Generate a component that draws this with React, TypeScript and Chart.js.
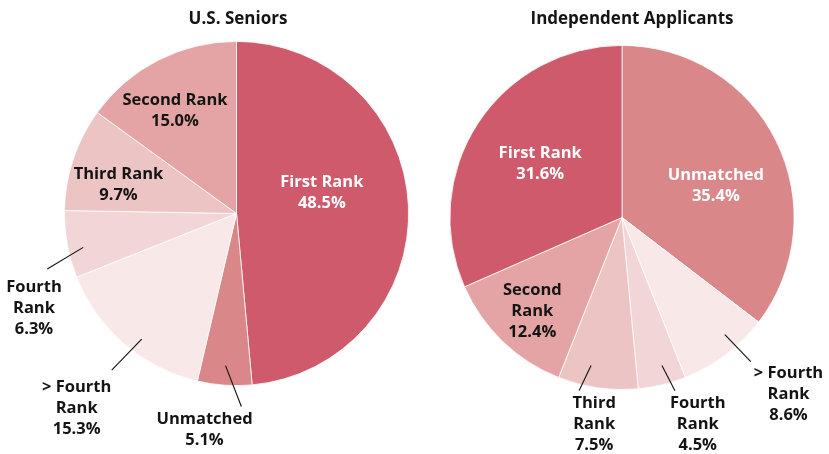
import React, { useEffect, useRef } from "react";
import { Chart, registerables } from "chart.js";

Chart.register(...registerables);

// ---- data ----
const seniorsTitle = "U.S. Seniors";
const seniorsCategories = ["First Rank", "Unmatched", "> Fourth Rank", "Fourth Rank", "Third Rank", "Second Rank"];
const seniorsValues = [48.5, 5.1, 15.3, 6.3, 9.7, 15.0];

const independentTitle = "Independent Applicants";
const independentCategories = ["Unmatched", "> Fourth Rank", "Fourth Rank", "Third Rank", "Second Rank", "First Rank"];
const independentValues = [35.4, 8.6, 4.5, 7.5, 12.4, 31.6];

// ---- styles ----
const sliceColors: Record<string, string> = {
  "First Rank": "#CE5A6B",
  "Unmatched": "#DA878A",
  "Second Rank": "#E4A4A5",
  "Third Rank": "#ECC4C3",
  "Fourth Rank": "#F2D5D6",
  "> Fourth Rank": "#F8E8E8",
};

const FONT = "'Open Sans', 'Noto Sans', sans-serif";
const DARK = "#141414";

type LabelLayout = {
  wrap: boolean;
  shift: number; // degrees relative to slice mid angle
  dist: number; // fraction of radius
  color: string;
  leader?: [number, number, number, number]; // shift1, dist1, shift2, dist2
};

const seniorsLabels: LabelLayout[] = [
  { wrap: false, shift: -11.4, dist: 0.511, color: "#ffffff" },
  { wrap: false, shift: 4.5, dist: 1.263, color: DARK, leader: [0.16, 0.886, -5.4, 1.122] },
  { wrap: true, shift: -1.15, dist: 1.458, color: DARK, leader: [-3.7, 0.915, -2.2, 1.164] },
  { wrap: true, shift: -14.5, dist: 1.297, color: DARK, leader: [-2.1, 0.912, -6.0, 1.146] },
  { wrap: false, shift: -4.4, dist: 0.707, color: DARK },
  { wrap: false, shift: -3.7, dist: 0.7, color: DARK },
];

const independentLabels: LabelLayout[] = [
  { wrap: false, shift: 6.9, dist: 0.578, color: "#ffffff" },
  { wrap: true, shift: -6.4, dist: 1.406, color: DARK, leader: [-4.2, 0.906, -4.7, 1.123] },
  { wrap: true, shift: -6.7, dist: 1.275, color: DARK, leader: [-1.6, 0.891, -3.5, 1.052] },
  { wrap: true, shift: -0.4, dist: 1.208, color: DARK, leader: [3.7, 0.879, 5.8, 1.036] },
  { wrap: true, shift: 0.1, dist: 0.75, color: DARK },
  { wrap: false, shift: 0.5, dist: 0.571, color: "#ffffff" },
];

const DEG = Math.PI / 180;

function makeLabelPlugin(title: string, titleShift: number, categories: string[], values: number[], layout: LabelLayout[]) {
  return {
    id: "sliceLabels",
    afterDatasetsDraw(chart: any) {
      const ctx: CanvasRenderingContext2D = chart.ctx;
      const meta = chart.getDatasetMeta(0);
      ctx.save();
      // title
      const first = meta.data[0] as any;
      ctx.font = `700 17px ${FONT}`;
      ctx.fillStyle = DARK;
      ctx.textAlign = "center";
      ctx.textBaseline = "middle";
      ctx.fillText(title, first.x + titleShift, 19);

      ctx.font = `700 16.5px ${FONT}`;
      meta.data.forEach((arc: any, i: number) => {
        const L = layout[i];
        if (!L) return;
        const { x, y, startAngle, endAngle, outerRadius } = arc.getProps(["x", "y", "startAngle", "endAngle", "outerRadius"], true);
        const mid = (startAngle + endAngle) / 2;
        const cat = categories[i];
        let lines: string[];
        if (L.wrap) {
          const k = cat.lastIndexOf(" ");
          lines = [cat.slice(0, k), cat.slice(k + 1)];
        } else {
          lines = [cat];
        }
        lines.push(values[i].toFixed(1) + "%");

        if (L.leader) {
          const [s1, d1, s2, d2] = L.leader;
          const a1 = mid + s1 * DEG;
          const a2 = mid + s2 * DEG;
          ctx.strokeStyle = "#111111";
          ctx.lineWidth = 1.1;
          ctx.beginPath();
          ctx.moveTo(x + Math.cos(a1) * d1 * outerRadius, y + Math.sin(a1) * d1 * outerRadius);
          ctx.lineTo(x + Math.cos(a2) * d2 * outerRadius, y + Math.sin(a2) * d2 * outerRadius);
          ctx.stroke();
        }

        const a = mid + L.shift * DEG;
        const tx = x + Math.cos(a) * L.dist * outerRadius;
        const ty = y + Math.sin(a) * L.dist * outerRadius;
        const lh = 21;
        ctx.fillStyle = L.color;
        lines.forEach((t, j) => {
          ctx.fillText(t, tx, ty + (j - (lines.length - 1) / 2) * lh + 1);
        });
      });
      ctx.restore();
    },
  };
}

function PieChart(props: {
  title: string;
  titleShift: number;
  categories: string[];
  values: number[];
  layout: LabelLayout[];
  width: number;
  height: number;
  left: number;
  padding: { left: number; right: number; top: number; bottom: number };
}) {
  const ref = useRef<HTMLCanvasElement | null>(null);
  useEffect(() => {
    if (!ref.current) return;
    const chart = new Chart(ref.current, {
      type: "pie",
      data: {
        labels: props.categories,
        datasets: [
          {
            data: props.values,
            backgroundColor: props.categories.map((c) => sliceColors[c]),
            borderColor: "#ffffff",
            borderWidth: 0.8,
          },
        ],
      },
      options: {
        responsive: false,
        animation: false,
        devicePixelRatio: 1,
        layout: { padding: props.padding },
        plugins: {
          legend: { display: false },
          title: { display: false },
          tooltip: { enabled: false },
        },
      },
      plugins: [makeLabelPlugin(props.title, props.titleShift, props.categories, props.values, props.layout)],
    });
    return () => chart.destroy();
  }, []);
  return (
    <canvas
      ref={ref}
      width={props.width}
      height={props.height}
      style={{ position: "absolute", left: props.left, top: 0, width: props.width, height: props.height }}
    />
  );
}

export default function App() {
  return (
    <div style={{ position: "fixed", left: 0, top: 0, width: 829, height: 454, background: "#ffffff", overflow: "hidden" }}>
      <PieChart
        title={seniorsTitle}
        titleShift={1.5}
        categories={seniorsCategories}
        values={seniorsValues}
        layout={seniorsLabels}
        width={415}
        height={454}
        left={0}
        padding={{ left: 64, right: 6, top: 41, bottom: 68 }}
      />
      <PieChart
        title={independentTitle}
        titleShift={10}
        categories={independentCategories}
        values={independentValues}
        layout={independentLabels}
        width={414}
        height={454}
        left={415}
        padding={{ left: 34, right: 34, top: 45, bottom: 64 }}
      />
    </div>
  );
}
